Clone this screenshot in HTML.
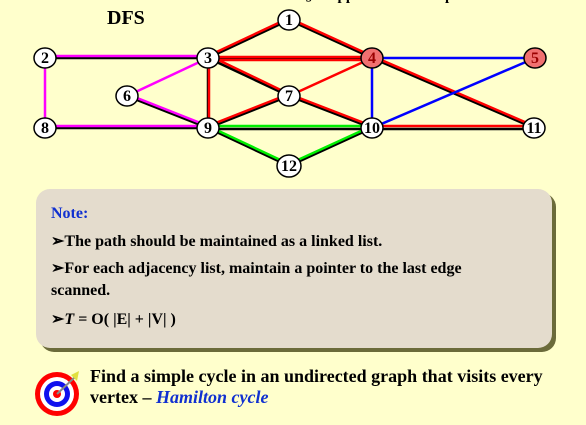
<!DOCTYPE html>
<html><head><style>
body{margin:0;width:586px;height:425px;background:#ffffcc;overflow:hidden;position:relative;font-family:"Liberation Serif",serif;}
.box{position:absolute;left:36px;top:189px;width:516px;height:159px;background:#e4dccd;border-radius:14px;box-shadow:4px 4px 0 #6b6b3a;}
.t{position:absolute;font-weight:bold;font-size:16px;color:#000;white-space:nowrap;}
.b{font-size:18px;}
</style></head><body>
<div class="t" style="left:305px;top:-12px;font-size:15px;">§ 4 Applications of Depth-First Search</div>
<div class="t" style="left:107px;top:7px;font-size:20px;">DFS</div>
<svg width="586" height="190" style="position:absolute;left:0;top:0" font-family="Liberation Serif" font-weight="bold" font-size="16">
<g stroke-width="2.5" fill="none">
<g stroke="#000">
<line x1="289" y1="20" x2="208" y2="58"/><line x1="289" y1="20" x2="372" y2="58"/>
<line x1="45" y1="58" x2="208" y2="58"/><line x1="208" y1="58" x2="372" y2="58"/>
<line x1="208" y1="58" x2="289" y2="96"/><line x1="208" y1="58" x2="208" y2="128"/>
<line x1="372" y1="58" x2="534" y2="128"/><line x1="127" y1="96" x2="208" y2="128"/>
<line x1="289" y1="96" x2="208" y2="128"/><line x1="289" y1="96" x2="372" y2="128"/>
<line x1="45" y1="128" x2="208" y2="128"/><line x1="208" y1="129" x2="372" y2="129"/>
<line x1="372" y1="129" x2="534" y2="129"/><line x1="208" y1="128" x2="289" y2="166"/>
<line x1="289" y1="166" x2="372" y2="128"/>
</g>
<g stroke="#ff0000">
<line x1="289" y1="18" x2="208" y2="56"/><line x1="291" y1="19" x2="372" y2="56"/>
<line x1="208" y1="60" x2="372" y2="60"/><line x1="208" y1="57" x2="372" y2="57"/>
<line x1="210" y1="56" x2="289" y2="94"/><line x1="209" y1="58" x2="209" y2="128"/>
<line x1="372" y1="56" x2="534" y2="126"/><line x1="289" y1="96" x2="372" y2="58"/>
<line x1="289" y1="94" x2="208" y2="126"/><line x1="289" y1="94" x2="372" y2="126"/>
<line x1="372" y1="126" x2="534" y2="126"/>
</g>
<g stroke="#ff00ff">
<line x1="45" y1="56" x2="208" y2="56"/><line x1="45" y1="58" x2="45" y2="128"/>
<line x1="127" y1="96" x2="208" y2="58"/><line x1="127" y1="94" x2="208" y2="126"/>
<line x1="45" y1="126" x2="208" y2="126"/>
</g>
<g stroke="#0000ff">
<line x1="372" y1="58" x2="535" y2="58"/><line x1="372" y1="58" x2="372" y2="128"/>
<line x1="372" y1="128" x2="535" y2="58"/>
</g>
<g stroke="#00ee00">
<line x1="208" y1="126" x2="372" y2="126"/><line x1="208" y1="126" x2="289" y2="164"/>
<line x1="289" y1="164" x2="372" y2="126"/>
</g>
</g>
<g stroke="#000" stroke-width="1.5">
<ellipse cx="289" cy="20" rx="11" ry="10" fill="#fff"/>
<ellipse cx="45" cy="58" rx="11" ry="10" fill="#fff"/>
<ellipse cx="208" cy="58" rx="11" ry="10" fill="#fff"/>
<ellipse cx="372" cy="58" rx="11" ry="10" fill="#f07070"/>
<ellipse cx="535" cy="58" rx="11" ry="10" fill="#f07070"/>
<ellipse cx="127" cy="96" rx="11" ry="10" fill="#fff"/>
<ellipse cx="289" cy="96" rx="11" ry="10" fill="#fff"/>
<ellipse cx="45" cy="128" rx="11" ry="10" fill="#fff"/>
<ellipse cx="208" cy="128" rx="11" ry="10" fill="#fff"/>
<ellipse cx="372" cy="128" rx="11" ry="10" fill="#fff"/>
<ellipse cx="534" cy="128" rx="11" ry="10" fill="#fff"/>
<ellipse cx="289" cy="166" rx="12" ry="11" fill="#fff"/>
</g>
<g text-anchor="middle" fill="#000">
<text x="289" y="25">1</text><text x="45" y="63">2</text><text x="208" y="63">3</text>
<text x="372" y="63" fill="#900">4</text><text x="535" y="63" fill="#900">5</text>
<text x="127" y="101">6</text><text x="289" y="101">7</text><text x="45" y="133">8</text>
<text x="208" y="133">9</text><text x="372" y="133">10</text><text x="534" y="133">11</text><text x="289" y="171">12</text>
</g>
</svg>
<div class="box"></div>
<div class="t" style="left:51px;top:205px;color:#1030d0;">Note:</div>
<div class="t" style="left:51px;top:231px;">➢The path should be maintained as a linked list.</div>
<div class="t" style="left:51px;top:258px;">➢For each adjacency list, maintain a pointer to the last edge</div>
<div class="t" style="left:51px;top:282px;">scanned.</div>
<div class="t" style="left:51px;top:309px;">➢<i>T</i> = O( |E| + |V| )</div>
<svg width="50" height="50" style="position:absolute;left:33px;top:369px">
<circle cx="24" cy="25" r="22" fill="#ff0000"/><circle cx="24" cy="25" r="17" fill="#fff"/>
<circle cx="24" cy="25" r="13" fill="#1010ee"/><circle cx="24" cy="25" r="8" fill="#fff"/>
<circle cx="24" cy="25" r="4" fill="#ff0000"/>
<line x1="24" y1="25" x2="42" y2="8" stroke="#888" stroke-width="2"/>
<polygon points="38,6 46,2 44,12" fill="#e0e040"/>
</svg>
<div class="t b" style="left:90px;top:366px;">Find a simple cycle in an undirected graph that visits every</div>
<div class="t b" style="left:90px;top:387px;">vertex – <i style="color:#1030d0">Hamilton cycle</i></div>
</body></html>
